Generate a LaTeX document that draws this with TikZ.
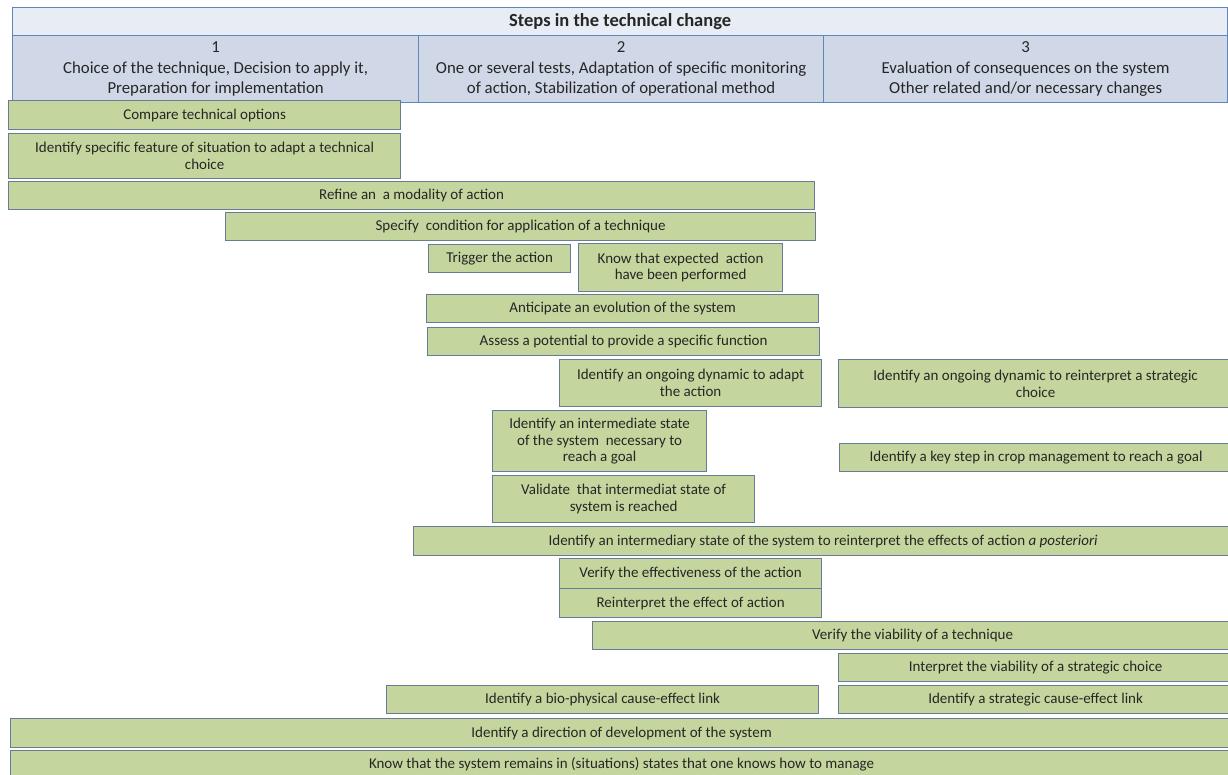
\documentclass[tikz,border=0pt]{standalone}
\usepackage{fontspec}
\setmainfont{Carlito}
\definecolor{headline}{HTML}{5B86BE}
\definecolor{headfill}{HTML}{E8ECF4}
\definecolor{colfill}{HTML}{D0D8E7}
\definecolor{taskline}{HTML}{687C98}
\definecolor{taskfill}{HTML}{C4D69D}
\begin{document}
\begin{tikzpicture}[x=1pt,y=-1pt]
    \tikzstyle{head}=[draw=headline,line width=1.3pt,anchor=north west,inner sep=0pt,align=center,text=black!85,font=\fontsize{16.8}{20.5}\selectfont]
    \tikzstyle{task}=[draw=taskline,line width=1.2pt,fill=taskfill,anchor=north west,inner sep=0pt,align=center,text=black!85,font=\fontsize{15}{16.8}\selectfont]
    \useasboundingbox (0,0) rectangle (1228,775);
    \clip (0,0) rectangle (1228,775);
    \node[head,fill=headfill,minimum width=1215pt,minimum height=28pt,font=\fontsize{18.5}{22}\selectfont] (title) at (12,7) {\textbf{Steps in the technical change}};
    \node[head,fill=colfill,minimum width=406pt,minimum height=67pt] (col1) at (12,35) {1\\Choice of the technique, Decision to apply it,\\Preparation for implementation};
    \node[head,fill=colfill,minimum width=405pt,minimum height=67pt] (col2) at (418,35) {2\\One or several tests, Adaptation of specific monitoring\\of action, Stabilization of operational method};
    \node[head,fill=colfill,minimum width=404pt,minimum height=67pt] (col3) at (823,35) {3\\Evaluation of consequences on the system\\Other related and/or necessary changes};
    \node[task,minimum width=392pt,minimum height=29pt] (compare) at (8,100) {Compare technical options};
    \node[task,minimum width=392pt,minimum height=45pt] (feature) at (8,133) {Identify specific feature of situation to adapt a technical\\choice};
    \node[task,minimum width=806pt,minimum height=28pt] (refine) at (8,181) {Refine an\ \ a modality of action};
    \node[task,minimum width=590pt,minimum height=28pt] (specify) at (225,212) {Specify\ \ condition for application of a technique};
    \node[task,minimum width=142pt,minimum height=28pt] (trigger) at (428,244) {Trigger the action};
    \node[task,minimum width=204pt,minimum height=48pt] (performed) at (578,243) {Know that expected\ \ action\\have been performed};
    \node[task,minimum width=392pt,minimum height=28pt] (anticipate) at (426,294) {Anticipate an evolution of the system};
    \node[task,minimum width=392pt,minimum height=28pt] (assess) at (427,327) {Assess a potential to provide a specific function};
    \node[task,minimum width=262pt,minimum height=47pt] (dynadapt) at (559,359) {Identify an ongoing dynamic to adapt\\the action};
    \node[task,minimum width=394pt,minimum height=48pt] (dynstrat) at (838,359) {Identify an ongoing dynamic to reinterpret a strategic\\choice};
    \node[task,minimum width=214pt,minimum height=61pt] (intermediate) at (492,410) {Identify an intermediate\ state\\of the system\ \ necessary to\\reach a goal};
    \node[task,minimum width=393pt,minimum height=28pt] (keystep) at (839,443) {Identify a key step in crop management to reach a goal};
    \node[task,minimum width=262pt,minimum height=47pt] (validate) at (492,475) {Validate\ \ that intermediat state of\\system is reached};
    \node[task,minimum width=819pt,minimum height=29pt] (aposteriori) at (413,526) {Identify an intermediary state of the system to reinterpret the effects of action \textit{a posteriori}};
    \node[task,minimum width=262pt,minimum height=30pt] (effective) at (559,558) {Verify the effectiveness of the action};
    \node[task,minimum width=262pt,minimum height=29pt] (reinterpret) at (559,588) {Reinterpret the effect of action};
    \node[task,minimum width=640pt,minimum height=28pt] (viability) at (592,621) {Verify the viability of a technique};
    \node[task,minimum width=394pt,minimum height=28pt] (stratviab) at (838,653) {Interpret the viability of a strategic choice};
    \node[task,minimum width=432pt,minimum height=28pt] (biolink) at (386,685) {Identify a bio-physical cause-effect link};
    \node[task,minimum width=394pt,minimum height=28pt] (stratlink) at (838,685) {Identify a strategic cause-effect link};
    \node[task,minimum width=1222pt,minimum height=29pt] (direction) at (10,718) {Identify a direction of development\ of the system};
    \node[task,minimum width=1222pt,minimum height=28pt] (remains) at (10,750) {Know that the system remains in (situations) states that one knows how to manage};
\end{tikzpicture}
\end{document}
